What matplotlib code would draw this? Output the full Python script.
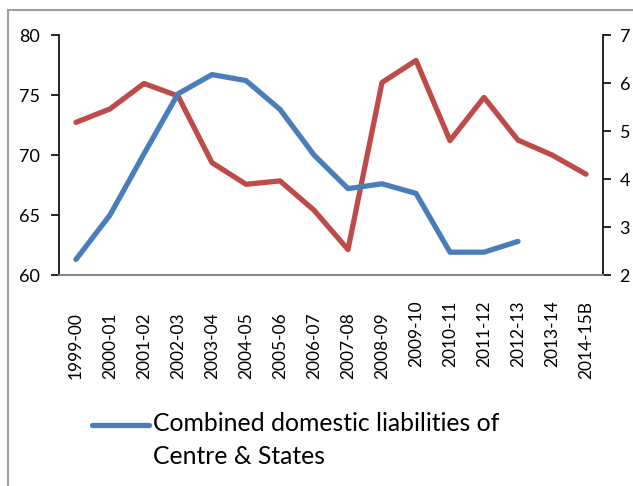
import numpy as np
import matplotlib
matplotlib.use("Agg")
import matplotlib.pyplot as plt
import matplotlib.transforms as mtransforms
from matplotlib.lines import Line2D
from matplotlib.legend_handler import HandlerLine2D

# --- DATA ---
years = ['1999-00', '2000-01', '2001-02', '2002-03', '2003-04', '2004-05',
         '2005-06', '2006-07', '2007-08', '2008-09', '2009-10', '2010-11',
         '2011-12', '2012-13', '2013-14', '2014-15B']

# combined domestic liabilities of Centre & States (left axis), no data after 2012-13
liabilities = [61.3, 65.0, 70.1, 75.1, 76.7, 76.2, 73.8, 70.0,
               67.2, 67.6, 66.8, 61.9, 61.9, 62.8, None, None]

# second series (right axis)
second = [5.18, 5.46, 5.99, 5.73, 4.34, 3.89, 3.96, 3.35,
          2.53, 6.01, 6.47, 4.80, 5.70, 4.81, 4.50, 4.10]

left_ticks = [60, 65, 70, 75, 80]
right_ticks = [2, 3, 4, 5, 6, 7]

BLUE = '#4A7EBB'
RED = '#BE4B48'
FONT = 'Lato'
LEG_SIZE = 17.8


class FirstLineHandler(HandlerLine2D):
    # put the legend line next to the first text line, like Excel does
    def create_artists(self, legend, orig_handle, xdescent, ydescent,
                       width, height, fontsize, trans):
        trans = mtransforms.Affine2D().translate(0, 11.5) + trans
        return super().create_artists(legend, orig_handle, xdescent, ydescent,
                                      width, height, fontsize, trans)


plt.rcParams['font.family'] = [FONT, 'DejaVu Sans']

fig = plt.figure(figsize=(6.33, 4.86), dpi=100)
ax = fig.add_axes([59 / 633, 1 - 275 / 486, 544 / 633, 240 / 486])
ax2 = ax.twinx()

x = np.arange(len(years))
y1 = np.array([np.nan if v is None else v for v in liabilities], dtype=float)
ax.plot(x, y1, color=BLUE, linewidth=3.8, solid_capstyle='round',
        solid_joinstyle='round')
ax2.plot(x, second, color=RED, linewidth=3.8, solid_capstyle='round',
         solid_joinstyle='round')

ax.set_xlim(-0.5, len(years) - 0.5)
ax.set_ylim(60, 80)
ax.set_yticks(left_ticks)
ax2.set_ylim(2, 7)
ax2.set_yticks(right_ticks)

ax.set_xticks(x)
ax.set_xticklabels(years, rotation=90, va='top', ha='center', fontsize=12.5)
ax.tick_params(axis='x', length=0, pad=27)
ax.tick_params(axis='y', direction='out', length=6, width=1.2,
               labelsize=13, pad=8)
ax2.tick_params(axis='y', direction='out', length=6, width=1.2,
                labelsize=13, pad=6)

# Excel pushes the later labels up a little
for i, lab in enumerate(ax.get_xticklabels()):
    if i >= 10:
        lab.set_transform(lab.get_transform() +
                          mtransforms.ScaledTranslation(0, 12 / 100, fig.dpi_scale_trans))

for a in (ax, ax2):
    a.spines['top'].set_visible(False)
    a.spines['bottom'].set_color('#868686')
    a.spines['bottom'].set_linewidth(1.2)
ax.spines['left'].set_linewidth(1.2)
ax2.spines['right'].set_linewidth(1.2)
ax.spines['right'].set_visible(False)
ax2.spines['left'].set_visible(False)
ax.set_zorder(1)
ax.patch.set_visible(False)
ax2.set_zorder(0)

handle = Line2D([], [], color=BLUE, linewidth=3.8, solid_capstyle='round')
leg = fig.legend([handle], ['Combined domestic liabilities of\nCentre & States'],
                 handler_map={Line2D: FirstLineHandler()},
                 loc='upper left', bbox_to_anchor=(92 / 633, 1 - 412 / 486),
                 frameon=False, fontsize=LEG_SIZE, handlelength=2.3,
                 handletextpad=0.15, borderpad=0, borderaxespad=0)
leg.get_texts()[0].set_linespacing(1.55)

# light frame on top and left edge
fig.add_artist(Line2D([8 / 633, 8 / 633], [0, 1 - 10 / 486],
                      transform=fig.transFigure, color='#A0A0A0', linewidth=1.5))
fig.add_artist(Line2D([8 / 633, 1], [1 - 10 / 486, 1 - 10 / 486],
                      transform=fig.transFigure, color='#A0A0A0', linewidth=1.5))

fig.savefig('out.png', dpi=100)
